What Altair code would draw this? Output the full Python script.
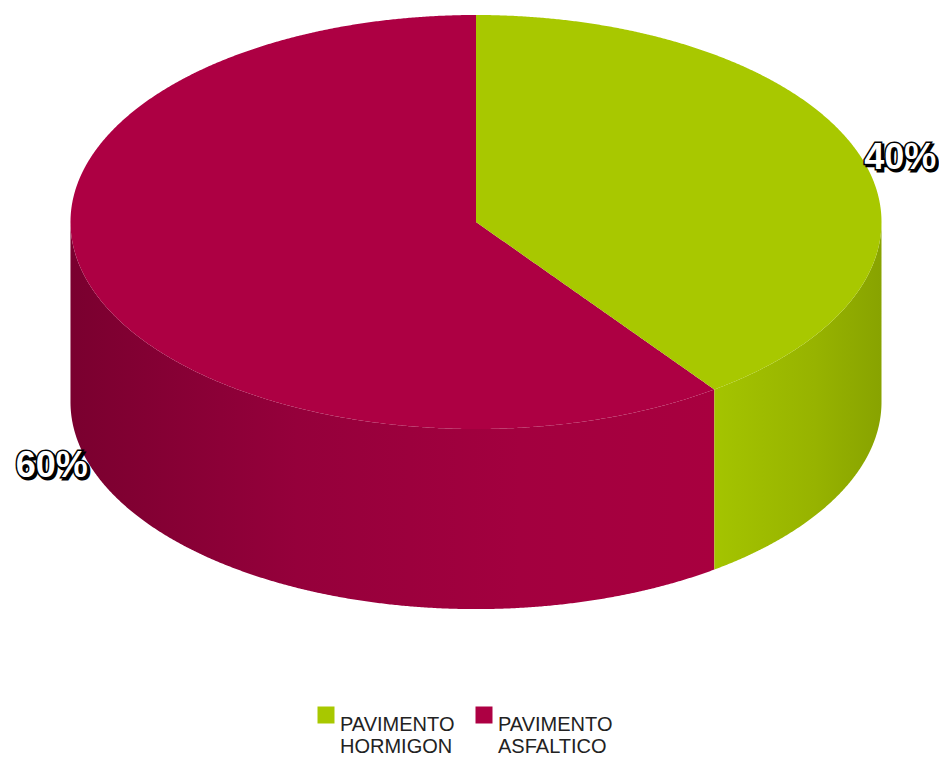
import math
import altair as alt
import pandas as pd

# ---- data ----
categories = ["PAVIMENTO HORMIGON", "PAVIMENTO ASFALTICO"]
values = [40, 60]
pct_labels = ["40%", "60%"]
top_colors = ["#a8c800", "#ad0043"]

# ---- geometry (unit ellipse, y in units of the vertical radius) ----
DEPTH = 0.87
total = sum(values)
B = 2 * math.pi * values[0] / total  # boundary angle, clockwise from 12 o'clock
sB, cotB = math.sin(B), math.cos(B) / math.sin(B)

xs = sorted(set([math.sin(math.radians(t / 4)) for t in range(-360, 361)] + [sB, 0.0, -1e-9]))

def half(x):
    return math.sqrt(max(0.0, 1 - x * x))

rows_top, rows_wall = [], []
for x in xs:
    h = half(x)
    if 0 <= x <= 1:
        rows_top.append({"cat": categories[0], "x": x, "y": h, "y2": max(-h, x * cotB)})
    if -1 <= x <= sB:
        top = h if x < 0 else min(h, x * cotB)
        rows_top.append({"cat": categories[1], "x": x, "y": top, "y2": -h})
    part = categories[0] if x >= sB else categories[1]
    rows_wall.append({"cat": part, "x": x, "y": -h, "y2": -h - DEPTH})
    if abs(x - sB) < 1e-12:
        rows_wall.append({"cat": categories[0], "x": x, "y": -h, "y2": -h - DEPTH})

top_df = pd.DataFrame(rows_top)
wall_df = pd.DataFrame(rows_wall)

lab_rows = []
acc = 0
for c, v, t in zip(categories, values, pct_labels):
    m = 2 * math.pi * (acc + v / 2) / total
    acc += v
    lx, ly = 1.1 * math.sin(m), math.cos(m)
    if math.cos(m) < 0:
        ly -= DEPTH
    lab_rows.append({"cat": c, "x": lx, "y": ly, "t": t})
lab_df = pd.DataFrame(lab_rows)

xsc = alt.Scale(domain=[-1.1541, 1.1418], nice=False, zero=False)
ysc = alt.Scale(domain=[-2.2995, 1.0338], nice=False, zero=False)
X = alt.X("x:Q", scale=xsc, axis=None)
Y = alt.Y("y:Q", scale=ysc, axis=None)

red_grad = alt.LinearGradient(
    gradient="linear", x1=0, x2=1, y1=0, y2=0,
    stops=[alt.GradientStop(offset=0, color="#7a002f"),
           alt.GradientStop(offset=0.35, color="#95003b"),
           alt.GradientStop(offset=0.7, color="#a3003f"),
           alt.GradientStop(offset=1, color="#a8003f")])
green_grad = alt.LinearGradient(
    gradient="linear", x1=0, x2=1, y1=0, y2=0,
    stops=[alt.GradientStop(offset=0, color="#a4c400"),
           alt.GradientStop(offset=0.6, color="#97b300"),
           alt.GradientStop(offset=1, color="#88a300")])

wall_red = alt.Chart(wall_df).transform_filter(
    alt.datum.cat == categories[1]).mark_area(color=red_grad).encode(x=X, y=Y, y2="y2:Q")
wall_green = alt.Chart(wall_df).transform_filter(
    alt.datum.cat == categories[0]).mark_area(color=green_grad).encode(x=X, y=Y, y2="y2:Q")

tops = alt.Chart(top_df).mark_area().encode(
    x=X, y=Y, y2="y2:Q",
    color=alt.Color("cat:N", scale=alt.Scale(domain=categories, range=top_colors),
                    legend=alt.Legend(title=None, orient="none", legendX=308, legendY=697,
                                      direction="horizontal", symbolType="square",
                                      symbolSize=289, symbolStrokeWidth=0,
                                      labelFont="Liberation Sans", labelFontSize=20,
                                      labelColor="#222222", labelBaseline="top",
                                      labelLimit=400, columnPadding=19,
                                      labelExpr="split(datum.label, ' ')")),
    detail="cat:N")

font_kw = dict(font="Liberation Sans", fontWeight="bold", fontSize=36)
shadow = alt.Chart(lab_df).mark_text(fill="black", stroke="black", strokeWidth=3,
                                     dx=2, dy=2, **font_kw).encode(x=X, y=Y, text="t:N")
outline = alt.Chart(lab_df).mark_text(fill="black", stroke="black", strokeWidth=3,
                                      **font_kw).encode(x=X, y=Y, text="t:N")
face = alt.Chart(lab_df).mark_text(fill="white", **font_kw).encode(x=X, y=Y, text="t:N")

chart = alt.layer(wall_red, wall_green, tops, shadow, outline, face).properties(
    width=931, height=690, padding=0
).configure_view(stroke=None)

chart.save("out.html", embed_options={"renderer": "svg", "actions": False})
